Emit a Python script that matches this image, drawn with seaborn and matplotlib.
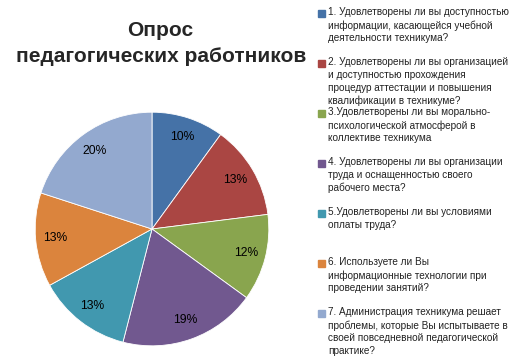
import matplotlib
matplotlib.use('Agg')
import matplotlib.pyplot as plt
import seaborn as sns
from matplotlib.patches import Rectangle

sns.set_theme(style='white')
plt.rcParams['font.family'] = ['Liberation Sans', 'DejaVu Sans']

# data
questions = [
    '1. Удовлетворены ли вы доступностью\nинформации, касающейся учебной\nдеятельности техникума?',
    '2. Удовлетворены ли вы организацией\nи доступностью прохождения\nпроцедур аттестации и повышения\nквалификации в техникуме?',
    '3.Удовлетворены ли вы морально-\nпсихологической атмосферой в\nколлективе техникума',
    '4. Удовлетворены ли вы организации\nтруда и оснащенностью своего\nрабочего места?',
    '5.Удовлетворены ли вы условиями\nоплаты труда?',
    '6. Используете ли Вы\nинформационные технологии при\nпроведении занятий?',
    '7. Администрация техникума решает\nпроблемы, которые Вы испытываете в\nсвоей повседневной педагогической\nпрактике?',
]
shares = [10, 13, 12, 19, 13, 13, 20]
colors = ['#4572A7', '#AA4643', '#89A54E', '#71588F', '#4198AF', '#DB843D', '#93A9CF']

fig = plt.figure(figsize=(5.1, 3.57), dpi=100)
ax = fig.add_axes([0.0667, 0.028, 0.4627, 0.661])
wedges, texts, autotexts = ax.pie(
    shares, colors=colors, startangle=90, counterclock=False,
    autopct='%1.0f%%', pctdistance=0.83,
    wedgeprops=dict(edgecolor='white', linewidth=0.6),
    textprops=dict(fontsize=8.7, color='black'))
ax.set_xlim(-1.01, 1.01)
ax.set_ylim(-1.01, 1.01)
ax.set_aspect('equal')

fig.text(0.315, 0.878, 'Опрос\nпедагогических работников', ha='center', va='center',
         fontsize=15, fontweight='bold', linespacing=1.5)

# legend, one entry every 50 px
for i, (q, c) in enumerate(zip(questions, colors)):
    top = 1 - (7 + 50 * i) / 357
    fig.patches.append(Rectangle((318 / 510, top - 10 / 357), 7 / 510, 7 / 357,
                                 transform=fig.transFigure, color=c))
    fig.text(328 / 510, top, q, ha='left', va='top', fontsize=7.2,
             color='#222222', linespacing=1.36)

plt.savefig('out.png', dpi=100)
